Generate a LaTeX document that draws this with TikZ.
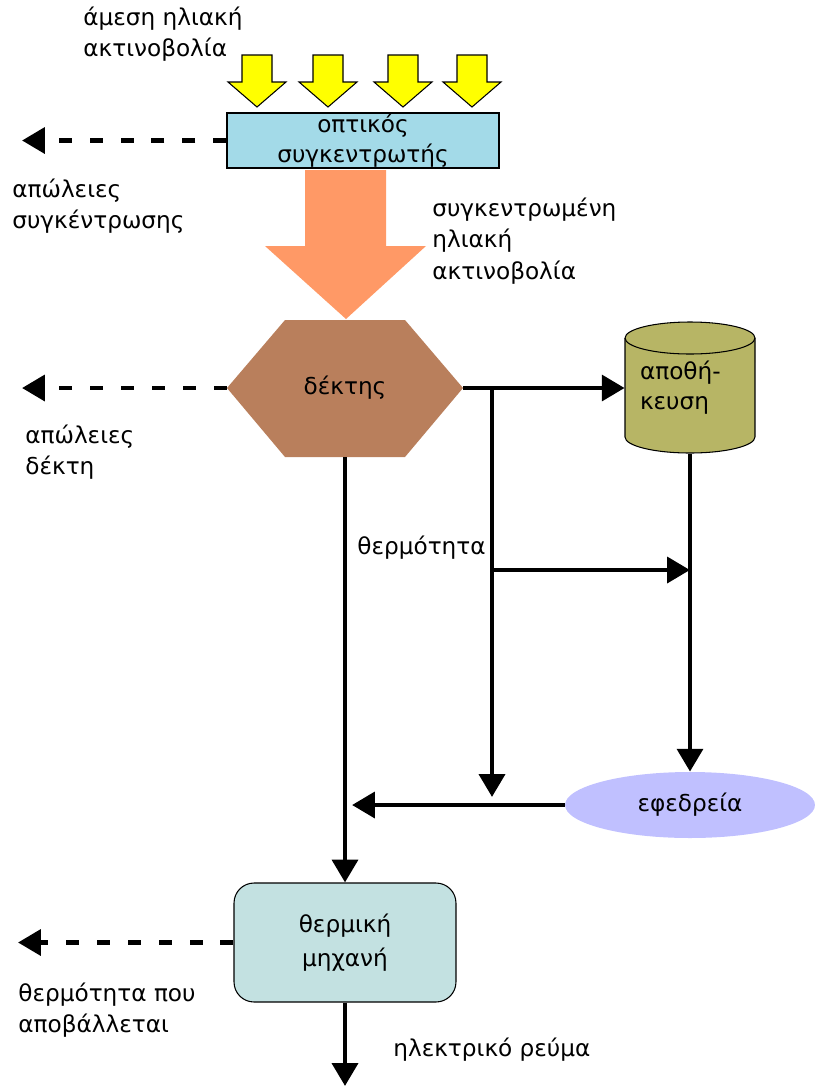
\documentclass[tikz,border=0pt]{standalone}
\usepackage{fontspec}
\setmainfont{DejaVu Sans}
\usetikzlibrary{arrows.meta,shapes.geometric}
\definecolor{solar}{HTML}{FFFF00}
\definecolor{optcol}{HTML}{A3DAE8}
\definecolor{conccol}{HTML}{FF9966}
\definecolor{hexcol}{HTML}{B97F5C}
\definecolor{storecol}{HTML}{B7B565}
\definecolor{backcol}{HTML}{C0C0FF}
\definecolor{engcol}{HTML}{C3E1E1}
\tikzset{
  flow/.style={line width=2.8pt, -{Triangle[length=13pt,width=14.5pt]}},
  loss/.style={flow, dash pattern=on 7.4pt off 10.2pt},
  lbl/.style={anchor=west, align=left, inner sep=0pt, font=\fontsize{13.2}{18}\selectfont},
}
\newcommand{\sunarrow}[1]{\draw[fill=solar, line width=0.6pt] (#1-15,55) -- (#1+15,55) -- (#1+15,82) -- (#1+29,82) -- (#1,107) -- (#1-29,82) -- (#1-15,82) -- cycle}

\begin{document}
\begin{tikzpicture}[x=0.02cm, y=-0.02cm]
    \useasboundingbox (0,0) rectangle (821,1086);

    \sunarrow{257};
    \sunarrow{328};
    \sunarrow{403};
    \sunarrow{472};

    \node[draw, fill=optcol, line width=0.8pt, minimum width=5.44cm, minimum height=1.1cm, inner sep=0pt, align=center, font=\fontsize{13.2}{17}\selectfont] (opt) at (363,140.5) {οπτικός\\συγκεντρωτής};

    \fill[conccol] (305,170) -- (386,170) -- (386,246) -- (426,246) -- (346,319) -- (265,246) -- (305,246) -- cycle;

    \fill[hexcol] (227,388) -- (285,320) -- (405,320) -- (463,388) -- (405,457) -- (285,457) -- cycle;
    \node[minimum width=4.72cm, minimum height=2.74cm, inner sep=0pt, font=\fontsize{13.2}{18}\selectfont] (dektis) at (345,388) {δέκτης};

    \filldraw[fill=storecol, line width=0.6pt] (625,338) -- (625,437) arc[start angle=180, end angle=360, x radius=1.3cm, y radius=0.32cm] -- (755,338) arc[start angle=0, end angle=180, x radius=1.3cm, y radius=0.32cm];
    \draw[line width=0.6pt] (625,338) arc[start angle=180, end angle=360, x radius=1.3cm, y radius=0.32cm];
    \node[minimum width=2.6cm, minimum height=2.62cm, inner sep=0pt, text width=2cm, align=left, font=\fontsize{13.2}{17}\selectfont] (apoth) at (690,388) {αποθή-\\κευση};

    \node[ellipse, fill=backcol, minimum width=5cm, minimum height=1.32cm, inner sep=0pt, font=\fontsize{13.2}{18}\selectfont] (efedr) at (690,805) {εφεδρεία};

    \node[draw, fill=engcol, line width=0.6pt, rounded corners=0.4cm, minimum width=4.44cm, minimum height=2.38cm, inner sep=0pt, align=center, font=\fontsize{13.2}{19.5}\selectfont] (mihani) at (345,942.5) {θερμική\\μηχανή};

    \coordinate (split) at (492,388);
    \coordinate (branch) at (492,570);
    \coordinate (lossopt) at (22,140.5);
    \coordinate (lossdek) at (22,388);
    \coordinate (losseng) at (18,942.5);
    \coordinate (out) at (345,1086);

    \draw[loss] (opt.west) -- (lossopt);
    \draw[loss] (dektis.west) -- (lossdek);
    \draw[loss] (mihani.west) -- (losseng);

    \draw[flow] (dektis.east) -- (dektis.east -| apoth.west);
    \draw[flow, shorten >=0.16cm] (split) -- (split |- efedr.west);
    \draw[flow] (branch) -- (branch -| apoth.south);
    \draw[flow] (apoth.south) -- (efedr.north);
    \draw[flow, shorten >=0.14cm] (efedr.west) -- (efedr.west -| dektis.south);
    \draw[flow] (dektis.south) -- (mihani.north);
    \draw[flow] (mihani.south) -- (out);

    \node[lbl] (lblsun) at (83,34) {άμεση ηλιακή\\ακτινοβολία};
    \node[lbl] (lblopt) at (12,206) {απώλειες\\συγκέντρωσης};
    \node[lbl] (lblconc) at (432,241) {συγκεντρωμένη\\ηλιακή\\ακτινοβολία};
    \node[lbl] (lbldek) at (25,452) {απώλειες\\δέκτη};
    \node[lbl] (lblheat) at (357,548) {θερμότητα};
    \node[lbl] (lbleng) at (18,1010) {θερμότητα που\\αποβάλλεται};
    \node[lbl] (lblel) at (393,1050) {ηλεκτρικό ρεύμα};
\end{tikzpicture}
\end{document}
